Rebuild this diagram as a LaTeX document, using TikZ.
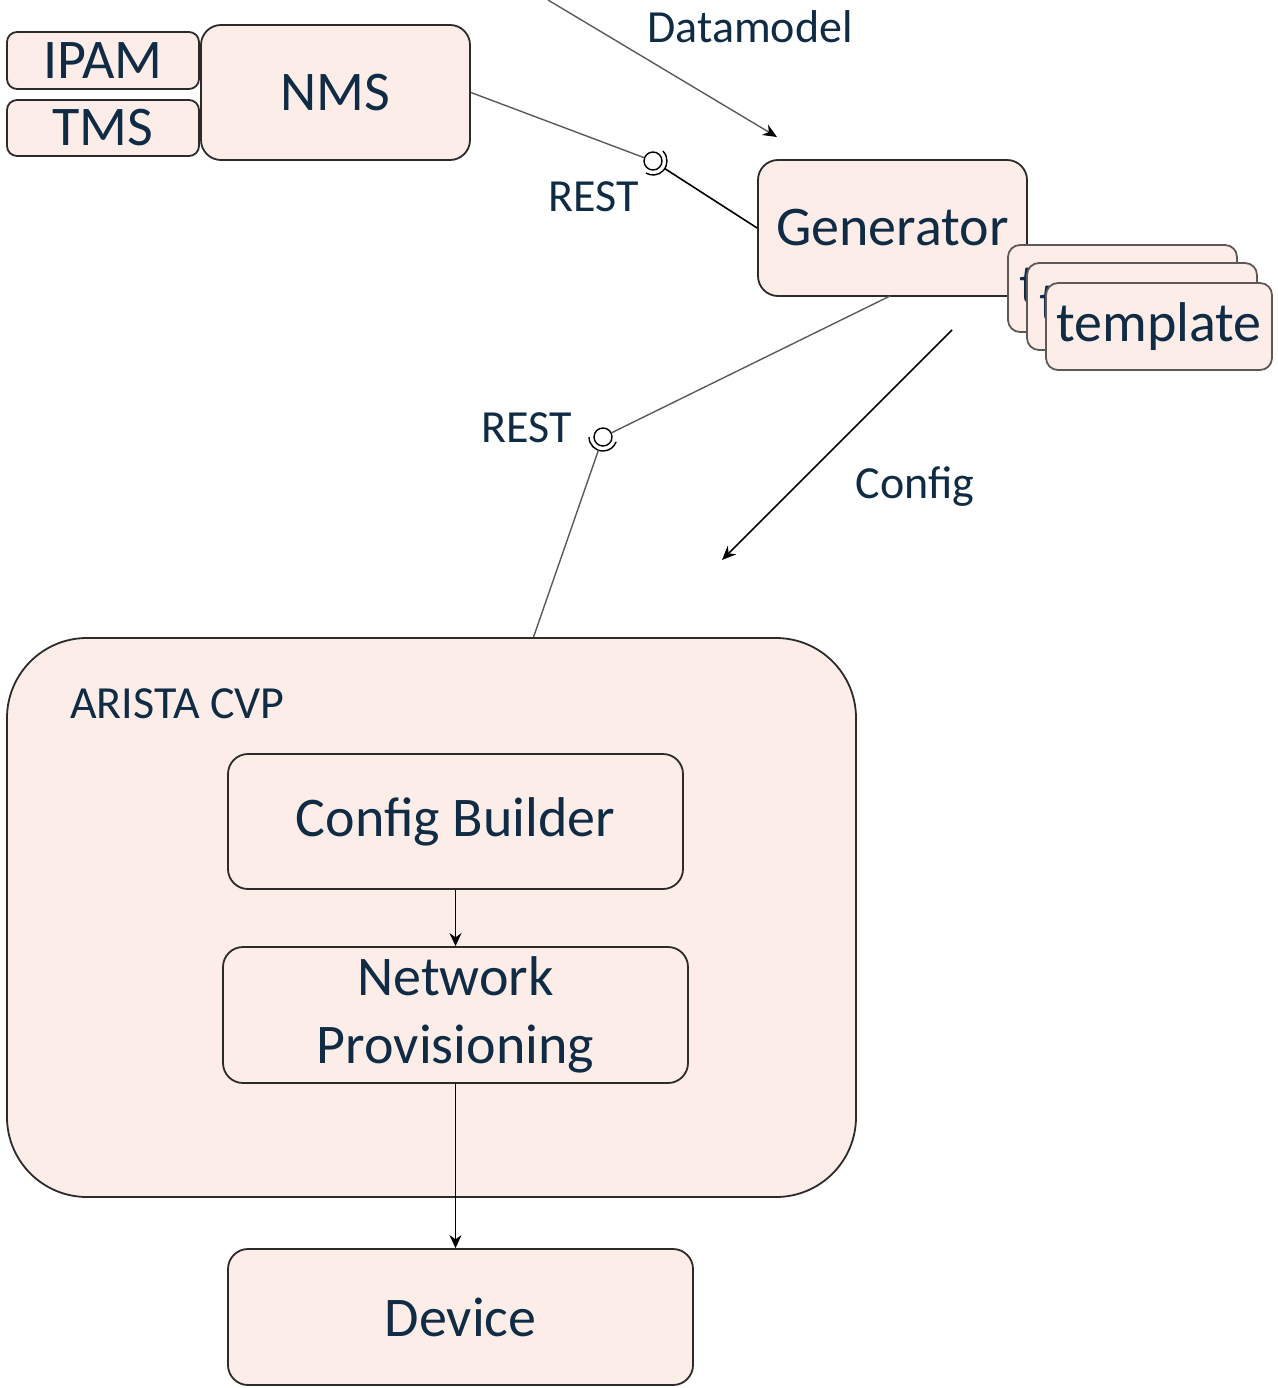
\documentclass[tikz,border=0pt]{standalone}
\usepackage{fontspec}
\setmainfont{Carlito}
\usetikzlibrary{arrows.meta,calc}
\definecolor{boxfill}{RGB}{252,237,233}
\definecolor{txt}{RGB}{16,43,68}
\definecolor{edge}{RGB}{45,42,42}
\definecolor{tedge}{RGB}{95,88,88}
\definecolor{conn}{RGB}{90,90,90}
\begin{document}
\begin{tikzpicture}[x=1pt,y=-1pt,
  box/.style={draw=edge,line width=1.8pt,fill=boxfill,rounded corners=#1,inner sep=0pt,text=txt,
    font=\fontsize{56}{68}\selectfont,align=center},
  box/.default=18pt,
  tbox/.style={box=12pt,draw=tedge},
  lbl/.style={text=txt,font=\fontsize{46}{55}\selectfont,inner sep=0pt},
  conline/.style={draw=conn,line width=1.4pt},
  arr/.style={draw=black,line width=1.6pt,-{Stealth[length=14pt,width=12pt]}},
  ball/.style={circle,draw=black,line width=1.4pt,fill=white,minimum size=18pt,inner sep=0pt},
  sock/.style={draw=black,line width=1.4pt}
]
\path[use as bounding box] (0,0) rectangle (1277,1388);

% top-left
\node[box=10pt,minimum width=192pt,minimum height=57pt] (ipam) at (103,60.5) {IPAM};
\node[box=10pt,minimum width=192pt,minimum height=56pt] (tms) at (103,128) {TMS};
\node[box=20pt,minimum width=269pt,minimum height=135pt] (nms) at (335.5,92.5) {NMS};

% generator + templates
\node[box=20pt,minimum width=269pt,minimum height=136pt] (gen) at (892.5,228) {Generator};
\node[tbox,minimum width=229pt,minimum height=87pt] (t1) at (1122.5,288.5) {template};
\node[tbox,minimum width=230pt,minimum height=87pt] (t2) at (1142,306.5) {template};
\node[tbox,minimum width=226pt,minimum height=87pt] (t3) at (1159,326.5) {template};

% labels
\node[lbl] (dmlbl) at (750,27) {Datamodel};
\node[lbl] (rest1) at (594,197) {REST};
\node[lbl] (rest2) at (527,428) {REST};
\node[lbl] (cfglbl) at (915,487) {Config};

% CVP
\node[box=80pt,minimum width=849pt,minimum height=559pt] (cvp) at (431.5,917.5) {};
\node[lbl,anchor=west] (cvplbl) at (70,704) {ARISTA CVP};
\node[box=20pt,minimum width=455pt,minimum height=135pt] (cb) at (455.5,821.5) {Config Builder};
\node[box=20pt,minimum width=465pt,minimum height=136pt] (np) at (455.5,1015) {Network\\Provisioning};
\node[box=20pt,minimum width=465pt,minimum height=136pt] (dev) at (460.5,1317) {Device};

% REST interface 1
\node[ball] (ball1) at (653,161) {};
\draw[sock] ($(ball1.center)+(-45:14)$) arc[start angle=-45,end angle=120,radius=14];
\draw[conline] (nms.east) -- (ball1);
\coordinate (s1) at ($(ball1.center)!14pt!(gen.west)$);
\draw[draw=black,line width=1.6pt] (s1) -- (gen.west);

% REST interface 2
\node[ball] (ball2) at (603,437) {};
\draw[sock] ($(ball2.center)+(180:14)$) arc[start angle=180,end angle=20,radius=14];
\coordinate (gbot) at (890,296);
\draw[conline] (gbot) -- (ball2);
\coordinate (cvptop) at ([xshift=102pt]cvp.north);
\coordinate (s2) at ($(ball2.center)!14pt!(cvptop)$);
\draw[conline] (s2) -- (cvptop);

% free arrows
\coordinate (dmstart) at (548,0);
\coordinate (dmend) at (777,137);
\draw[conline,-{Stealth[length=14pt,width=12pt,black]}] (dmstart) -- (dmend);
\coordinate (cfgstart) at (952,330);
\coordinate (cfgend) at (722,560);
\draw[arr] (cfgstart) -- (cfgend);

% inner flow
\draw[arr,line width=1.5pt,-{Stealth[length=13pt,width=12pt]}] (cb.south) -- (np.north);
\draw[arr,line width=1.5pt,-{Stealth[length=13pt,width=12pt]}] (np.south) -- (np.south |- dev.north);
\end{tikzpicture}
\end{document}
